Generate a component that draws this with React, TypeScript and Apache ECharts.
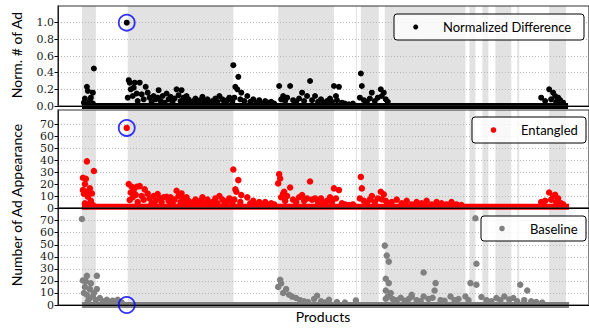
import React, { useEffect, useRef } from 'react';
import * as echarts from 'echarts';

// x axis: product index (no tick labels)
const X_MAX = 533;
const shadedBands: number[][] = [
  [24, 38], [70, 176], [221, 277], [299, 300], [304, 322], [328, 409],
  [413, 419], [426, 432], [439, 455], [461, 463], [493, 510],
];
const normTicks = [0, 0.2, 0.4, 0.6, 0.8, 1.0];
const countTicks = [0, 10, 20, 30, 40, 50, 60, 70];

// dense runs of near-zero products
const normDiffFloor = [24, 512];
const entangledFloor = [24, 513];
const baselineFloor = [24, 513];
const normDiffFloorValue = 0;
const entangledFloorValue = 1;
const baselineFloorValue = 0;

const normDiff: number[][] = [
  [26, 0.04], [27, 0.09], [28, 0.02], [29, 0.23], [30, 0.18], [32, 0.06], [33, 0.1], [35, 0.16], [35, 0.03], [36, 0.45],
  [69, 1.0],
  [70, 0.1], [71, 0.31], [72, 0.28], [73, 0.2], [75, 0.12], [76, 0.22], [77, 0.28], [79, 0.15], [80, 0.06], [82, 0.28],
  [84, 0.14], [86, 0.08], [88, 0.23], [90, 0.16], [92, 0.1], [94, 0.05], [96, 0.12], [98, 0.08], [100, 0.1], [101, 0.19],
  [103, 0.06], [105, 0.12], [107, 0.04], [109, 0.15], [111, 0.08], [113, 0.11], [115, 0.05], [117, 0.09], [119, 0.2],
  [121, 0.13], [123, 0.06], [124, 0.19], [126, 0.1], [128, 0.05], [129, 0.12], [131, 0.08], [133, 0.03], [136, 0.06],
  [138, 0.09], [140, 0.04], [143, 0.07], [145, 0.11], [147, 0.05], [150, 0.08], [152, 0.03], [155, 0.06], [158, 0.09],
  [160, 0.05], [162, 0.12], [165, 0.08], [167, 0.04], [170, 0.07], [172, 0.1], [175, 0.05],
  [176, 0.49], [177, 0.1], [178, 0.23], [180, 0.2], [181, 0.35], [183, 0.08], [184, 0.16], [187, 0.06], [190, 0.12],
  [193, 0.05], [196, 0.08], [199, 0.04], [202, 0.07], [205, 0.03], [208, 0.06], [211, 0.04], [214, 0.05], [217, 0.03],
  [222, 0.24], [224, 0.08], [226, 0.12], [228, 0.06], [230, 0.1], [233, 0.24], [236, 0.07], [239, 0.05], [242, 0.09],
  [245, 0.16], [247, 0.06], [250, 0.12], [253, 0.3], [255, 0.07], [258, 0.12], [261, 0.05], [264, 0.08], [267, 0.04],
  [270, 0.06], [273, 0.09], [275, 0.05], [277, 0.24], [279, 0.12], [280, 0.07], [282, 0.23], [285, 0.04], [288, 0.03],
  [292, 0.02], [296, 0.03],
  [303, 0.1], [304, 0.39], [305, 0.24], [307, 0.07], [310, 0.05], [313, 0.09], [315, 0.16], [318, 0.06], [321, 0.1],
  [324, 0.2], [325, 0.12], [327, 0.16], [329, 0.08], [331, 0.05],
  [485, 0.1], [489, 0.06], [493, 0.2], [495, 0.08], [497, 0.16], [499, 0.12], [500, 0.05], [502, 0.1], [504, 0.07], [507, 0.04],
];

const entangled: number[][] = [
  [25, 25.3], [25, 15], [26, 12], [27, 4], [27, 20], [28, 24.4], [28, 13.6], [29, 39], [29, 3], [30, 9.4], [31, 14],
  [32, 16.4], [33, 6], [34, 12.2], [35, 2.5], [36, 31],
  [69, 67],
  [71, 20], [72, 6.7], [73, 13], [74, 17.8], [75, 9], [76, 15], [78, 11], [79, 17.8], [80, 5], [82, 18.3], [84, 10],
  [86, 7], [87, 15.6], [90, 12], [92, 8], [94, 4], [96, 10], [98, 6], [100, 11.7], [102, 8], [104, 5], [106, 9],
  [109, 9.4], [111, 6], [113, 9], [115, 4], [117, 7], [119, 14.4], [121, 10], [123, 5], [124, 12.2], [126, 8], [128, 4],
  [129, 8.9], [131, 6], [133, 3], [136, 5], [138, 7], [140, 3], [143, 6], [145, 9], [147, 4], [150, 7], [152, 3],
  [155, 5], [158, 8], [160, 4], [162, 10], [165, 7], [167, 3], [170, 6], [172, 8], [175, 4],
  [176, 32.2], [177, 7], [178, 15.6], [179, 13.6], [181, 23.3], [183, 5], [184, 10.8], [190, 8.9],
  [193, 4], [196, 6], [199, 3], [202, 5], [205, 3], [208, 5], [211, 3], [214, 4], [217, 3],
  [221, 20.6], [222, 28.3], [223, 24.7], [224, 9], [226, 12], [227, 13.6], [228, 6], [230, 10], [233, 17.2], [236, 7],
  [239, 5], [242, 9], [245, 10.8], [247, 6], [250, 8], [253, 22.2], [255, 7], [258, 8], [261, 5], [264, 8], [267, 4],
  [270, 6], [273, 9], [275, 5], [277, 16.4], [279, 8], [282, 15], [285, 4], [288, 3], [292, 2.5], [296, 3],
  [303, 8], [304, 26], [305, 16.4], [307, 6], [310, 4], [313, 7], [315, 10], [318, 5], [321, 8], [324, 13.6], [325, 7.2],
  [327, 11.4], [329, 6], [331, 4], [335, 5], [340, 7], [345, 4], [350, 6], [355, 3], [360, 5], [365, 4], [370, 6],
  [375, 3], [380, 5], [385, 4], [390, 3], [395, 5], [400, 3], [405, 2.5],
  [485, 5], [489, 6], [493, 13], [495, 7], [497, 10], [499, 11], [500, 5], [502, 8], [505, 4], [507, 3],
];

const baseline: number[][] = [
  [24, 71.4], [25, 20.4], [26, 10], [27, 14.9], [28, 19.5], [29, 24.2], [29, 8.5], [30, 3], [31, 5], [32, 13.2],
  [33, 18], [35, 7.1], [36, 10], [38, 4], [39, 24.2], [39, 13.2], [42, 5.8], [45, 3], [49, 4.4], [52, 2.5], [55, 3.6],
  [60, 4.4], [64, 2], [69, 0],
  [221, 15], [223, 21], [224, 18], [226, 10], [229, 13.2], [232, 8.5], [235, 7], [239, 5.8], [243, 4], [247, 3],
  [251, 2.5], [257, 5], [260, 7.7], [264, 3], [268, 2], [272, 4.4], [280, 2.5], [288, 2], [299, 3.8],
  [328, 49.3], [329, 21.8], [329, 12], [329, 5.2], [330, 41], [331, 7], [332, 36], [332, 18.2], [334, 9.9], [336, 5],
  [340, 4], [344, 6], [348, 3.5], [352, 5], [355, 7], [355, 8.5], [360, 4], [364, 3], [367, 27], [367, 7.1], [372, 5],
  [376, 6], [378, 12], [379, 18.2], [384, 4], [388, 3.5], [394, 7.1], [398, 4], [402, 5], [409, 7.1], [412, 4],
  [414, 18.2], [419, 72], [420, 34.2], [420, 16.8], [425, 6.6], [430, 4], [435, 3], [440, 5.8], [444, 4], [448, 7.1],
  [453, 4.5], [457, 5.8], [461, 3], [464, 16.8], [468, 4], [471, 12], [475, 3], [480, 2.5], [486, 2],
];

const highlightNorm = [[69, 1.0]];
const highlightEntangled = [[69, 67]];
const highlightBaseline = [[69, 0]];

const SANS = 'Lato, "DejaVu Sans", sans-serif';
const SERIF = '"DejaVu Serif", serif';

function yAxisFor(gridIndex: number, max: number, interval: number, ticks: number[], digits: number) {
  return {
    type: 'value',
    gridIndex,
    min: 0,
    max,
    interval,
    z: 2,
    axisLine: { show: true, lineStyle: { color: '#000', width: 1 } },
    axisTick: { show: true, length: 3.5, customValues: ticks, lineStyle: { color: '#000' } },
    axisLabel: {
      customValues: ticks,
      margin: 4,
      color: '#222',
      fontFamily: SERIF,
      fontSize: 11,
      formatter: (v: number) => (v > ticks[ticks.length - 1] + 1e-6 ? '' : v.toFixed(digits)),
    },
    splitLine: { show: true, lineStyle: { color: '#aaa', type: [1, 2], width: 0.8 } },
  };
}

function xAxisFor(gridIndex: number) {
  return {
    type: 'value',
    gridIndex,
    min: 0,
    max: X_MAX,
    z: 4,
    axisLine: { show: true, onZero: false, lineStyle: { color: '#000', width: 1.2 } },
    axisTick: { show: false },
    axisLabel: { show: false },
    splitLine: { show: false },
  };
}

const bandArea = {
  silent: true,
  itemStyle: { color: '#e2e2e2' },
  data: shadedBands.map(([a, b]) => [{ xAxis: a }, { xAxis: b }]),
};

function floorSeries(idx: number, range: number[], value: number, color: string) {
  return {
    type: 'line',
    xAxisIndex: idx,
    yAxisIndex: idx,
    data: range.map((x) => [x, value]),
    symbol: 'none',
    lineStyle: { color, width: 6 },
    z: 3,
    markArea: bandArea,
  };
}

function scatterSeries(idx: number, data: number[][], color: string, size: number) {
  return {
    type: 'scatter',
    xAxisIndex: idx,
    yAxisIndex: idx,
    data,
    symbolSize: size,
    itemStyle: { color, opacity: 1 },
    z: 3,
  };
}

function ringSeries(idx: number, data: number[][]) {
  return {
    type: 'scatter',
    xAxisIndex: idx,
    yAxisIndex: idx,
    data,
    symbolSize: 16,
    itemStyle: { color: 'rgba(0,0,0,0)', borderColor: '#0000ff', borderWidth: 1.8 },
    z: 5,
  };
}

function legendBox(x: number, y: number, w: number, h: number, dotColor: string, dotX: number, textX: number, label: string, r: number) {
  const cy = y + h / 2;
  return [
    { type: 'rect', z: 20, shape: { x, y, width: w, height: h, r: 3 }, style: { fill: 'rgba(255,255,255,0.8)', stroke: '#000', lineWidth: 1 } },
    { type: 'circle', z: 21, shape: { cx: dotX, cy, r }, style: { fill: dotColor } },
    { type: 'text', z: 21, x: textX, y: cy, style: { text: label, fill: '#000', font: `13px ${SANS}`, verticalAlign: 'middle', align: 'left' } },
  ];
}

export default function App() {
  const ref = useRef<HTMLDivElement>(null);
  useEffect(() => {
    if (!ref.current) return;
    const chart = echarts.init(ref.current, null, { renderer: 'svg' });
    const gridBase = { left: 58, width: 533, show: true, borderColor: '#333', borderWidth: 1.2, z: 4 };
    chart.setOption({
      animation: false,
      grid: [
        { ...gridBase, top: 6, height: 100 },
        { ...gridBase, top: 110, height: 98 },
        { ...gridBase, top: 208, height: 97 },
      ],
      xAxis: [xAxisFor(0), xAxisFor(1), xAxisFor(2)],
      yAxis: [
        yAxisFor(0, 1.2, 0.2, normTicks, 1),
        yAxisFor(1, 82, 10, countTicks, 0),
        yAxisFor(2, 80.5, 10, countTicks, 0),
      ],
      series: [
        floorSeries(0, normDiffFloor, normDiffFloorValue, '#000'),
        scatterSeries(0, normDiff, '#000', 6),
        ringSeries(0, highlightNorm),
        floorSeries(1, entangledFloor, entangledFloorValue, '#ff0000'),
        scatterSeries(1, entangled, '#ff0000', 6.5),
        ringSeries(1, highlightEntangled),
        floorSeries(2, baselineFloor, baselineFloorValue, '#808080'),
        scatterSeries(2, baseline, '#808080', 6.5),
        ringSeries(2, highlightBaseline),
      ],
      graphic: [
        ...legendBox(394, 14, 190, 26, '#000', 415.7, 443, 'Normalized Difference', 2.5),
        ...legendBox(472, 117, 114, 26, '#ff0000', 493.5, 521, 'Entangled', 2.8),
        ...legendBox(481, 216, 105, 25, '#808080', 502, 530, 'Baseline', 2.8),
        { type: 'text', x: 16, y: 55, rotation: Math.PI / 2, style: { text: 'Norm. # of Ad', font: `14px ${SANS}`, fill: '#000', align: 'center', verticalAlign: 'middle' } },
        { type: 'text', x: 16, y: 205, rotation: Math.PI / 2, style: { text: 'Number of Ad Appearance', font: `14px ${SANS}`, fill: '#000', align: 'center', verticalAlign: 'middle' } },
        { type: 'text', x: 323, y: 316.5, style: { text: 'Products', font: `14px ${SANS}`, fill: '#000', align: 'center', verticalAlign: 'middle' } },
      ],
    });
    return () => chart.dispose();
  }, []);
  return <div ref={ref} style={{ width: 589, height: 329, position: 'absolute', left: 0, top: 0 }} />;
}
